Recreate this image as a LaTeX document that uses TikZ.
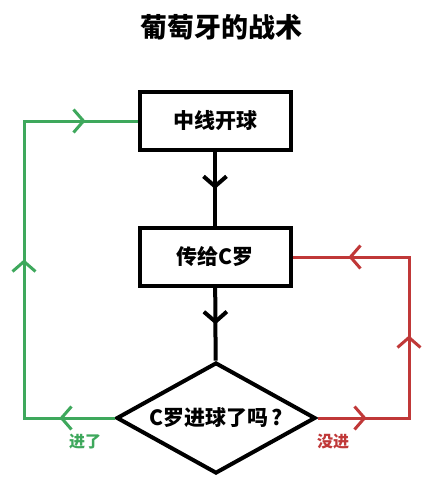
\documentclass[tikz,border=0pt]{standalone}
\usepackage{fontspec}
\setmainfont{Noto Sans CJK SC}
\usepackage{tikz}
\usetikzlibrary{shapes.geometric}
\usetikzlibrary{arrows.meta}
\usetikzlibrary{decorations.markings}
\definecolor{goalgreen}{RGB}{62,168,92}
\definecolor{missred}{RGB}{192,56,56}
\tikzset{chev/.tip={Straight Barb[length=10pt, width=23pt]}}
\tikzstyle{box} = [draw, line width=4pt, minimum width=151pt, minimum height=58pt, inner sep=0pt, font=\fontsize{21}{21}\selectfont\bfseries]
\tikzstyle{decision} = [draw, diamond, aspect=1.8, line width=4pt, minimum width=199pt, minimum height=111pt, inner sep=0pt, font=\fontsize{21}{21}\selectfont\bfseries]
\tikzstyle{line} = [draw, line width=4pt, postaction={decorate}, decoration={markings, mark=at position 0.5 with {\arrow{chev}}}]
\tikzstyle{goal} = [draw=goalgreen, line width=3pt, postaction={decorate}, decoration={markings,
  mark=at position 55pt with {\arrow[goalgreen]{chev}},
  mark=at position 249pt with {\arrow[goalgreen]{chev}},
  mark=at position 449pt with {\arrow[goalgreen]{chev}}}]
\tikzstyle{miss} = [draw=missred, line width=3pt, postaction={decorate}, decoration={markings,
  mark=at position 49pt with {\arrow[missred]{chev}},
  mark=at position 174pt with {\arrow[missred]{chev}},
  mark=at position 313pt with {\arrow[missred]{chev}}}]

\begin{document}
\begin{tikzpicture}[x=1pt, y=-1pt]
\useasboundingbox[fill=white] (0,0) rectangle (440,488);
\draw (221,27) node[font=\fontsize{27}{27}\selectfont\bfseries] (title) {葡萄牙的战术};
\draw (215,121) node[box] (kick) {中线开球};
\draw (215,257) node[box] (pass) {传给C罗};
\draw (216,418) node[decision] (ask) {C罗进球了吗\hspace{3pt}?};
\coordinate (gcorner) at (24,418);
\coordinate (rcorner) at (409,418);
\path[line] (kick) -- (pass);
\path[line] (pass) -- (ask);
\path[goal] (ask.west) -- (gcorner) |- (kick.west);
\path[miss] (ask.east) -- (rcorner) |- (pass.east);
\draw (85,442) node[text=goalgreen, font=\fontsize{16}{16}\selectfont\bfseries] (yes) {进了};
\draw (333,442) node[text=missred, font=\fontsize{16}{16}\selectfont\bfseries] (no) {没进};
\end{tikzpicture}
\end{document}
